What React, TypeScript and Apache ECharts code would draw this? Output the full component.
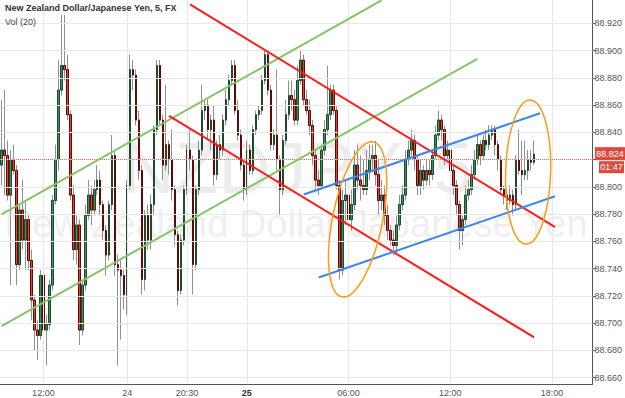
import React, { useEffect, useRef } from "react";
import * as echarts from "echarts";

const opens = [
88.816,88.827,88.823,88.794,88.820,88.812,88.743,88.783,88.761,88.776,
88.746,88.717,88.695,88.691,88.735,88.695,88.699,88.728,88.790,88.820,
88.871,88.889,88.886,88.853,88.794,88.754,88.772,88.695,88.728,88.779,
88.794,88.783,88.798,88.805,88.787,88.768,88.750,88.787,88.823,88.743,
88.739,88.735,88.721,88.801,88.886,88.882,88.849,88.812,88.732,88.779,
88.761,88.787,88.842,88.889,88.849,88.816,88.831,88.820,88.798,88.765,
88.724,88.761,88.798,88.827,88.820,88.743,88.798,88.827,88.856,88.860,
88.842,88.849,88.809,88.831,88.827,88.849,88.864,88.878,88.889,88.856,
88.838,88.816,88.798,88.827,88.812,88.842,88.853,88.856,88.878,88.897,
88.871,88.831,88.838,88.820,88.798,88.834,88.853,88.867,88.864,88.849,
88.878,88.893,88.864,88.856,88.845,88.823,88.805,88.801,88.827,88.842,
88.853,88.871,88.856,88.801,88.739,88.790,88.794,88.776,88.787,88.816,
88.805,88.801,88.798,88.812,88.820,88.823,88.809,88.790,88.794,88.779,
88.768,88.761,88.757,88.772,88.787,88.794,88.820,88.827,88.834,88.820,
88.801,88.812,88.805,88.812,88.809,88.823,88.838,88.849,88.842,88.823,
88.827,88.812,88.801,88.787,88.768,88.776,88.794,88.798,88.809,88.820,
88.831,88.823,88.834,88.831,88.838,88.842,88.831,88.820,88.798,88.794,
88.790,88.794,88.787,88.820,88.812,88.809,88.812,88.820,88.818];

const closes = [
88.827,88.823,88.794,88.820,88.812,88.743,88.783,88.761,88.776,88.746,
88.717,88.695,88.691,88.735,88.695,88.699,88.728,88.790,88.820,88.871,
88.889,88.886,88.853,88.794,88.754,88.772,88.695,88.728,88.779,88.794,
88.783,88.798,88.805,88.787,88.768,88.750,88.787,88.823,88.743,88.739,
88.735,88.721,88.801,88.886,88.882,88.849,88.812,88.732,88.779,88.761,
88.787,88.842,88.889,88.849,88.816,88.831,88.820,88.798,88.765,88.724,
88.761,88.798,88.827,88.820,88.743,88.798,88.827,88.856,88.860,88.842,
88.849,88.809,88.831,88.827,88.849,88.864,88.878,88.889,88.856,88.838,
88.816,88.798,88.827,88.812,88.842,88.853,88.856,88.878,88.897,88.871,
88.831,88.838,88.820,88.798,88.834,88.853,88.867,88.864,88.849,88.878,
88.893,88.864,88.856,88.845,88.823,88.805,88.801,88.827,88.842,88.853,
88.871,88.856,88.801,88.739,88.790,88.794,88.776,88.787,88.816,88.805,
88.801,88.798,88.812,88.820,88.823,88.809,88.790,88.794,88.779,88.768,
88.761,88.757,88.772,88.787,88.794,88.820,88.827,88.834,88.820,88.801,
88.812,88.805,88.812,88.809,88.823,88.838,88.849,88.842,88.823,88.827,
88.812,88.801,88.787,88.768,88.776,88.794,88.798,88.809,88.820,88.831,
88.823,88.834,88.831,88.838,88.842,88.831,88.820,88.798,88.794,88.790,
88.794,88.787,88.820,88.812,88.809,88.812,88.820,88.818,88.824];

const lows = [
88.801,88.794,88.790,88.728,88.809,88.728,88.739,88.754,88.739,88.739,
88.702,88.680,88.673,88.688,88.684,88.669,88.695,88.724,88.787,88.812,
88.867,88.878,88.849,88.790,88.746,88.743,88.684,88.691,88.724,88.776,
88.772,88.779,88.794,88.779,88.761,88.735,88.746,88.783,88.735,88.669,
88.688,88.710,88.706,88.798,88.871,88.845,88.805,88.721,88.724,88.754,
88.754,88.779,88.838,88.845,88.805,88.812,88.809,88.790,88.757,88.713,
88.721,88.757,88.794,88.812,88.721,88.739,88.794,88.823,88.849,88.834,
88.827,88.801,88.805,88.820,88.823,88.845,88.860,88.875,88.853,88.834,
88.812,88.790,88.794,88.809,88.809,88.838,88.849,88.853,88.875,88.867,
88.827,88.827,88.812,88.779,88.794,88.831,88.849,88.856,88.845,88.845,
88.875,88.860,88.853,88.838,88.816,88.798,88.794,88.798,88.823,88.838,
88.849,88.853,88.798,88.732,88.735,88.772,88.772,88.768,88.783,88.798,
88.790,88.794,88.794,88.805,88.812,88.801,88.779,88.783,88.772,88.761,
88.757,88.750,88.750,88.768,88.783,88.790,88.816,88.823,88.812,88.794,
88.794,88.798,88.801,88.801,88.805,88.820,88.834,88.834,88.816,88.820,
88.805,88.794,88.779,88.754,88.757,88.772,88.790,88.794,88.805,88.816,
88.816,88.820,88.827,88.827,88.834,88.823,88.812,88.794,88.787,88.783,
88.787,88.779,88.783,88.809,88.794,88.805,88.805,88.812,88.816];

const highs = [
88.864,88.871,88.834,88.827,88.831,88.816,88.787,88.805,88.790,88.779,
88.754,88.721,88.702,88.739,88.739,88.706,88.732,88.794,88.831,88.893,
88.926,88.926,88.897,88.856,88.801,88.779,88.776,88.732,88.787,88.805,
88.801,88.805,88.816,88.812,88.790,88.772,88.790,88.838,88.827,88.750,
88.746,88.739,88.805,88.897,88.893,88.886,88.856,88.816,88.783,88.787,
88.794,88.845,88.893,88.893,88.853,88.875,88.834,88.842,88.801,88.768,
88.765,88.801,88.831,88.842,88.823,88.801,88.834,88.875,88.864,88.864,
88.853,88.860,88.834,88.838,88.853,88.871,88.882,88.893,88.893,88.864,
88.842,88.820,88.834,88.831,88.845,88.856,88.860,88.882,88.900,88.900,
88.875,88.842,88.886,88.823,88.838,88.864,88.878,88.878,88.871,88.889,
88.900,88.897,88.871,88.864,88.849,88.827,88.812,88.831,88.849,88.889,
88.875,88.875,88.860,88.805,88.798,88.805,88.809,88.798,88.827,88.831,
88.823,88.820,88.827,88.831,88.831,88.834,88.820,88.805,88.801,88.787,
88.772,88.768,88.779,88.794,88.801,88.827,88.834,88.842,88.838,88.823,
88.820,88.816,88.820,88.820,88.827,88.845,88.856,88.853,88.845,88.834,
88.831,88.816,88.805,88.790,88.779,88.801,88.805,88.816,88.827,88.838,
88.834,88.838,88.842,88.845,88.845,88.845,88.834,88.823,88.801,88.798,
88.801,88.798,88.823,88.842,88.834,88.834,88.827,88.827,88.834];

// time slots on the axis (bars plus the empty space to the right)
const slotCount = 198;
const tickIndex = [14, 42, 62, 82, 116, 150, 184];
const tickText = ["12:00", "24", "20:30", "25", "06:00", "12:00", "18:00"];
const priceTicks = [88.66, 88.68, 88.7, 88.72, 88.74, 88.76, 88.78, 88.8, 88.82, 88.84, 88.86, 88.88, 88.9, 88.92];
// 88.820 sits under the current-price tag in the reference, so it is not labelled
const priceLabels = [88.66, 88.68, 88.7, 88.72, 88.74, 88.76, 88.78, 88.8, 88.84, 88.86, 88.88, 88.9, 88.92];
const yMin = 88.6554;
const yMax = 88.9371;
const countdown = "01:47";

// trend lines drawn on the chart: [bar index, price]
const redUpper = [[63, 88.9339], [185, 88.7705]];
const redLower = [[56, 88.8521], [178, 88.6896]];
const greenUpper = [[0, 88.7799], [127, 88.9369]];
const greenLower = [[0, 88.6978], [159, 88.8939]];
const blueUpper = [[101, 88.7944], [180, 88.854]];
const blueLower = [[106, 88.7335], [185, 88.7931]];
// hand-drawn ellipses: centre [bar index, price]
const ellipseCentres = [[119, 88.7761], [176, 88.8109]];

const FONT = "Liberation Sans, Arial, sans-serif";

export default function App() {
  const ref = useRef<HTMLDivElement>(null);
  useEffect(() => {
    document.body.style.margin = "0";
    if (!ref.current) return;
    const chart = echarts.init(ref.current, null, { renderer: "svg" });
    const cats = Array.from({ length: slotCount }, (_, i) => String(i));
    const wickData = opens.map((o, i) => [o, closes[i], lows[i], highs[i]]);
    const bodyData = opens.map((o, i) => [o, closes[i], Math.min(o, closes[i]), Math.max(o, closes[i])]);
    const last = closes[closes.length - 1];
    const trend = (data: number[][], color: string) => ({
      type: "line",
      data,
      symbol: "none",
      silent: true,
      z: 5,
      lineStyle: { color, width: 2 },
    });
    chart.setOption({
      animation: false,
      backgroundColor: "#ffffff",
      grid: { left: 0, right: 30, top: 0, bottom: 14 },
      xAxis: {
        type: "category",
        data: cats,
        boundaryGap: true,
        axisLine: { show: true, lineStyle: { color: "#555", width: 1 } },
        axisTick: { show: false },
        splitLine: { show: false },
        axisLabel: {
          interval: (index: number) => tickIndex.includes(index),
          formatter: (value: string) => {
            const k = tickIndex.indexOf(Number(value));
            if (k < 0) return "";
            const t = tickText[k];
            return t === "25" ? "{b|25}" : t;
          },
          rich: { b: { fontWeight: "bold", fontSize: 9, color: "#333", fontFamily: FONT } },
          color: "#555",
          fontSize: 9,
          fontFamily: FONT,
          margin: 4,
        },
      },
      yAxis: {
        type: "value",
        position: "right",
        min: yMin,
        max: yMax,
        scale: true,
        axisLine: { show: true, lineStyle: { color: "#555", width: 1 } },
        axisTick: { show: true, length: 3, lineStyle: { color: "#555" }, customValues: priceTicks },
        axisLabel: {
          customValues: priceLabels,
          formatter: (v: number) => v.toFixed(3),
          color: "#555",
          fontSize: 9,
          fontFamily: FONT,
          margin: 2,
        },
        splitLine: { show: false },
      },
      series: [
        {
          type: "line",
          data: [],
          silent: true,
          z: 1,
          markLine: {
            silent: true,
            symbol: "none",
            animation: false,
            label: { show: false },
            lineStyle: { color: "#e8e8e8", width: 1, type: "solid" },
            data: [
              ...priceTicks.map((v) => ({ yAxis: v })),
              ...tickIndex.map((i) => ({ xAxis: String(i) })),
            ],
          },
        },
        {
          type: "candlestick",
          data: wickData,
          barWidth: 2,
          silent: true,
          z: 2,
          itemStyle: { color: "#8f8f8f", color0: "#8f8f8f", borderColor: "#8f8f8f", borderColor0: "#8f8f8f", borderWidth: 1 },
        },
        {
          type: "candlestick",
          data: bodyData,
          barWidth: 2,
          silent: true,
          z: 3,
          itemStyle: { color: "#3f8d5e", color0: "#e8432f", borderColor: "#1d4a2c", borderColor0: "#5e0b07", borderWidth: 1 },
        },
        trend(greenUpper, "#86c46a"),
        trend(greenLower, "#86c46a"),
        trend(redUpper, "#ff1a1a"),
        trend(redLower, "#ff1a1a"),
        trend(blueUpper, "#3a86ea"),
        trend(blueLower, "#3a86ea"),
        {
          type: "line",
          data: [],
          silent: true,
          z: 4,
          markLine: {
            silent: true,
            symbol: "none",
            animation: false,
            label: { show: false },
            lineStyle: { color: "#e57368", width: 1, type: "dotted" },
            data: [{ yAxis: last }],
          },
        },
      ],
    });

    const lastPx = chart.convertToPixel({ xAxisIndex: 0, yAxisIndex: 0 }, [closes.length - 1, last]) as number[];
    const e1 = chart.convertToPixel({ xAxisIndex: 0, yAxisIndex: 0 }, ellipseCentres[0]) as number[];
    const e2 = chart.convertToPixel({ xAxisIndex: 0, yAxisIndex: 0 }, ellipseCentres[1]) as number[];
    const py = lastPx[1];
    chart.setOption({
      graphic: [
        {
          type: "text", silent: true, z: 0, x: 298, y: 168,
          style: { text: "NZDJPY, 5", fontSize: 72, fontFamily: FONT, fill: "rgba(0,0,0,0.075)", textAlign: "center", textVerticalAlign: "middle" },
        },
        {
          type: "text", silent: true, z: 0, x: 296, y: 224,
          style: { text: "New Zealand Dollar/Japanese Yen", fontSize: 38, fontFamily: FONT, fill: "rgba(0,0,0,0.085)", textAlign: "center", textVerticalAlign: "middle" },
        },
        {
          type: "text", silent: true, z: 20, x: 5, y: 8,
          style: { text: "New Zealand Dollar/Japanese Yen, 5, FX", fontSize: 9, fontWeight: "bold", fontFamily: FONT, fill: "#333", textVerticalAlign: "middle" },
        },
        {
          type: "text", silent: true, z: 20, x: 5, y: 22,
          style: { text: "Vol (20)", fontSize: 9, fontFamily: FONT, fill: "#444", textVerticalAlign: "middle" },
        },
        {
          type: "ellipse", silent: true, z: 20, x: e1[0], y: e1[1], rotation: -0.2,
          shape: { cx: 0, cy: 0, rx: 25, ry: 79 },
          style: { fill: "none", stroke: "#ff9a10", lineWidth: 1.5 },
        },
        {
          type: "ellipse", silent: true, z: 20, x: e2[0], y: e2[1], rotation: -0.03,
          shape: { cx: 0, cy: 0, rx: 22.5, ry: 72 },
          style: { fill: "none", stroke: "#ff9a10", lineWidth: 1.5 },
        },
        {
          type: "rect", silent: true, z: 30, x: 595, y: py - 7, shape: { width: 30, height: 13 },
          style: { fill: "#de4a3c" },
        },
        {
          type: "text", silent: true, z: 31, x: 610, y: py,
          style: { text: last.toFixed(3), fontSize: 9, fontFamily: FONT, fill: "#fff", textAlign: "center", textVerticalAlign: "middle" },
        },
        {
          type: "rect", silent: true, z: 30, x: 599, y: py + 7, shape: { width: 25, height: 12 },
          style: { fill: "#de4a3c" },
        },
        {
          type: "text", silent: true, z: 31, x: 611.5, y: py + 13,
          style: { text: countdown, fontSize: 9, fontFamily: FONT, fill: "#fff", textAlign: "center", textVerticalAlign: "middle" },
        },
      ],
    });
    return () => chart.dispose();
  }, []);
  return <div ref={ref} style={{ width: 625, height: 398 }} />;
}
